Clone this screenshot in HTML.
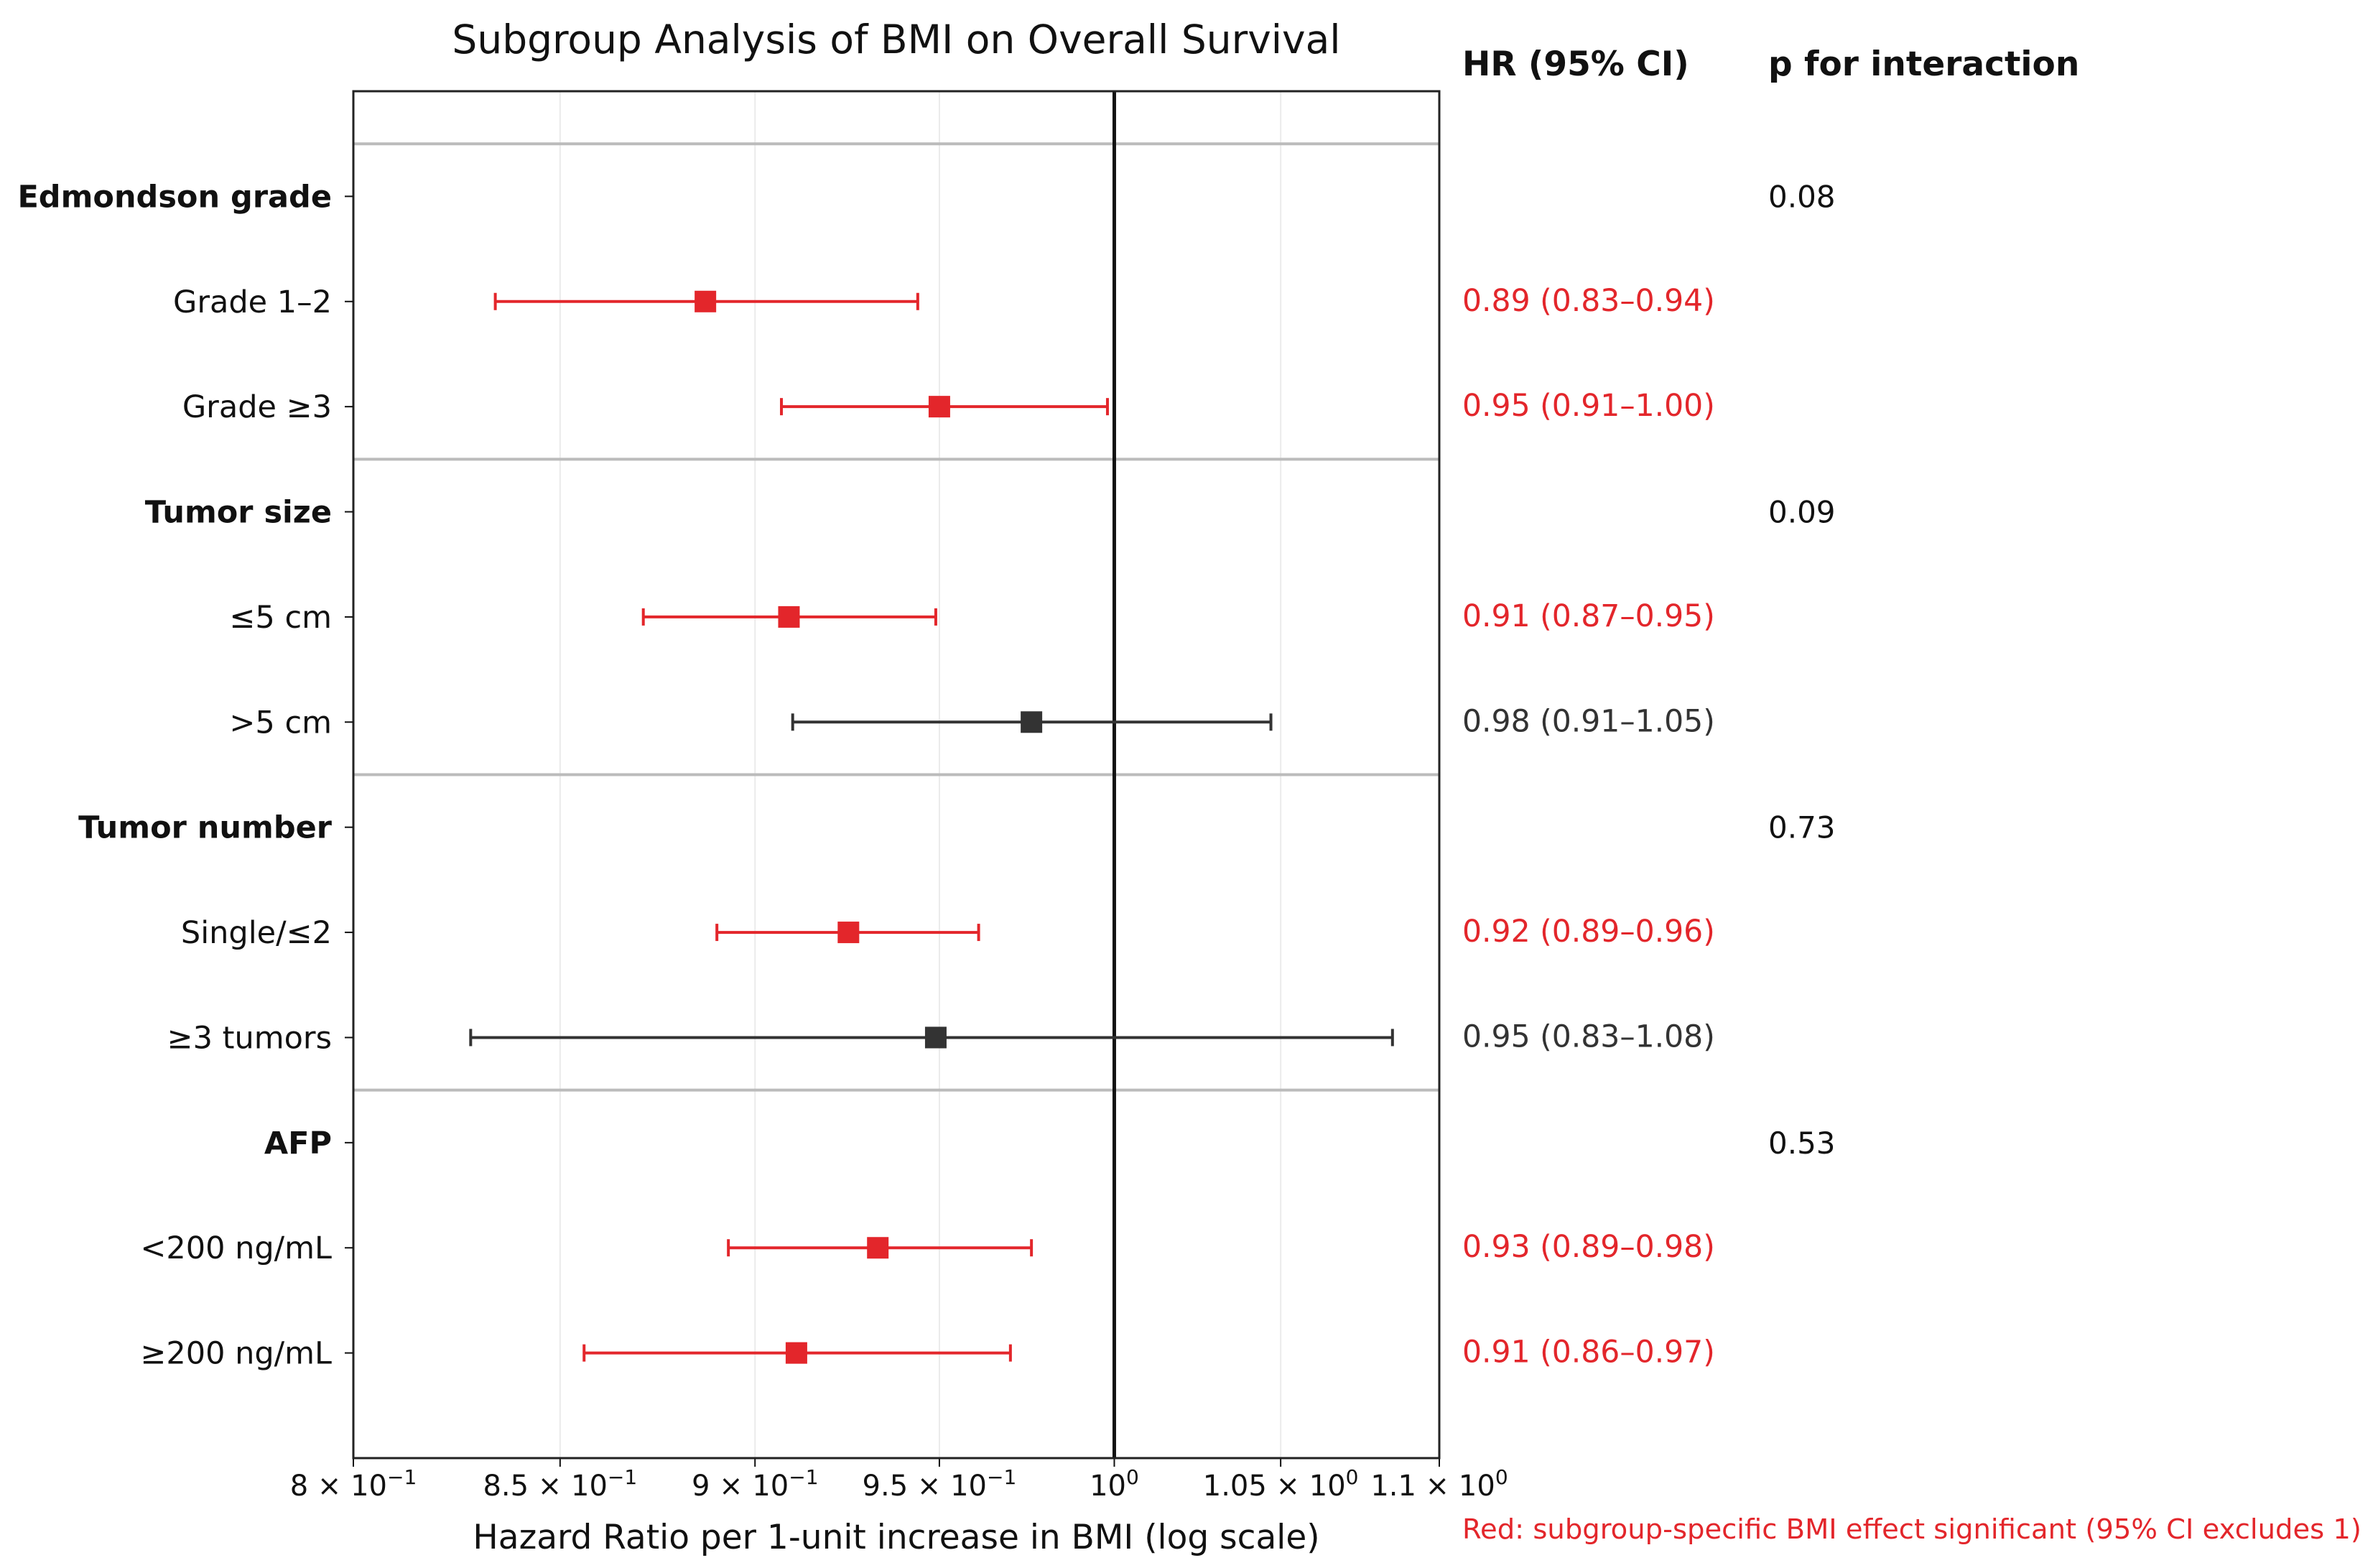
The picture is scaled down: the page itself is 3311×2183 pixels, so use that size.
<!DOCTYPE html>
<html><head><meta charset="utf-8"><style>
html,body{margin:0;padding:0;background:#fff;}
svg{display:block;}
text{font-family:"DejaVu Sans","Liberation Sans",sans-serif;}
</style></head><body>
<svg id="chart" width="3311" height="2183" viewBox="0 0 3311 2183" xmlns="http://www.w3.org/2000/svg">
<text x="1248" y="74" font-size="55" text-anchor="middle" fill="#111">Subgroup Analysis of BMI on Overall Survival</text>
<text x="2036" y="105" font-size="47" font-weight="bold" fill="#111">HR (95% CI)</text>
<text x="2462" y="105" font-size="47" font-weight="bold" fill="#111">p for interaction</text>
<text x="1248" y="2156" font-size="47" text-anchor="middle" fill="#111">Hazard Ratio per 1-unit increase in BMI (log scale)</text>
<text x="2036" y="2142" font-size="38.5" fill="#e3262b">Red: subgroup-specific BMI effect significant (95% CI excludes 1)</text>
<g id="plot"></g>
</svg>
<script>
const rowLabels = ["Edmondson grade","Grade 1–2","Grade ≥3","Tumor size","≤5 cm",">5 cm","Tumor number","Single/≤2","≥3 tumors","AFP","<200 ng/mL","≥200 ng/mL"];
const isHeader = [1,0,0,1,0,0,1,0,0,1,0,0];
const hr   = [null,0.887,0.950,null,0.909,0.976,null,0.925,0.949,null,0.933,0.911];
const lo   = [null,0.834,0.907,null,0.871,0.910,null,0.890,0.828,null,0.893,0.856];
const hi   = [null,0.944,0.998,null,0.949,1.047,null,0.961,1.085,null,0.976,0.970];
const hrText = ["","0.89 (0.83–0.94)","0.95 (0.91–1.00)","","0.91 (0.87–0.95)","0.98 (0.91–1.05)","","0.92 (0.89–0.96)","0.95 (0.83–1.08)","","0.93 (0.89–0.98)","0.91 (0.86–0.97)"];
const pText = ["0.08","","","0.09","","","0.73","","","0.53","",""];
const tickVals = [0.8,0.85,0.9,0.95,1.0,1.05,1.1];
const tickMant = ["8","8.5","9","9.5","","1.05","1.1"];
const tickExp = ["−1","−1","−1","−1","0","0","0"];
const separators = [-0.5,2.5,5.5,8.5];

const L=492,R=2004,T=127,B=2030;
const xMin=0.8,xMax=1.1;
function xs(v){return L+(Math.log(v)-Math.log(xMin))/(Math.log(xMax)-Math.log(xMin))*(R-L);}
function ys(i){return T+(i+1)/13*(B-T);}
const NS="http://www.w3.org/2000/svg";
const g=document.getElementById('plot');
function el(tag,attrs,parent){const e=document.createElementNS(NS,tag);for(const k in attrs)e.setAttribute(k,attrs[k]);(parent||g).appendChild(e);return e;}
const RED="#e3262b", DARK="#333333";

tickVals.forEach((v,i)=>{
  const x=xs(v);
  let gl=el('line',{x1:x,x2:x,y1:T,y2:B,stroke:'#ebebeb','stroke-width':2});
  
  
  let tk=el('line',{x1:x,x2:x,y1:B,y2:B+12,stroke:'#111','stroke-width':2});
  
  
  let t=el('text',{x:x,y:B+52,'font-size':40,'text-anchor':'middle',fill:'#111'});
  
  
  t.innerHTML=(tickMant[i]?tickMant[i]+' \u00d7 ':'')+'10<tspan font-size="28" dy="-16">'+tickExp[i]+'</tspan>';
});
separators.forEach(s=>{
  let l=el('line',{x1:L,x2:R,y1:ys(s),y2:ys(s),stroke:'#bbbbbb','stroke-width':4});
  
  
});
let ref=el('line',{x1:xs(1),x2:xs(1),y1:T,y2:B,stroke:'#111','stroke-width':5});


let fr=el('rect',{x:L,y:T,width:R-L,height:B-T,fill:'none',stroke:'#222','stroke-width':3});



rowLabels.forEach((lab,i)=>{
  const y=ys(i);
  let tk=el('line',{x1:L-12,x2:L,y1:y,y2:y,stroke:'#111','stroke-width':2});
  
  
  let t=el('text',{x:L-30,y:y+15,'font-size':43,'text-anchor':'end',fill:'#111','font-weight':isHeader[i]?'bold':'normal'});
  
  
  t.textContent=lab;
  if(pText[i]){
    let p=el('text',{x:2462,y:y+15,'font-size':42,fill:'#111'});
    
    
    p.textContent=pText[i];
  }
  if(hr[i]!==null){
    const sig = hi[i]<1||lo[i]>1;
    const c = sig?RED:DARK;
    let ln=el('line',{x1:xs(lo[i]),x2:xs(hi[i]),y1:y,y2:y,stroke:c,'stroke-width':4});
    
    
    [lo[i],hi[i]].forEach(v=>{
      let cp=el('line',{x1:xs(v),x2:xs(v),y1:y-12,y2:y+12,stroke:c,'stroke-width':4});
      
      
    });
    let m=el('rect',{x:xs(hr[i])-15,y:y-15,width:30,height:30,fill:c});
    
    
    let ht=el('text',{x:2036,y:y+13,'font-size':42.5,fill:c});
    
    
    ht.textContent=hrText[i];
  }
});
</script>
</body></html>
